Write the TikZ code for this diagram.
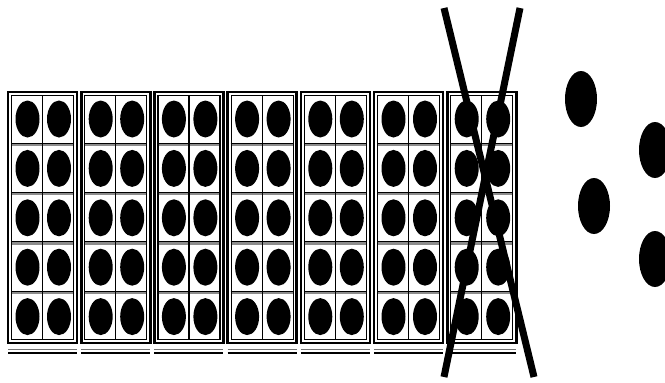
\documentclass[tikz,border=0pt]{standalone}
\begin{document}
\begin{tikzpicture}[x=1pt,y=-1pt,
  outerbox/.style={draw=black,line width=2.6pt},
  innerbox/.style={draw=black,line width=1.2pt},
  sepline/.style={draw=black!45,line width=2.6pt},
  divline/.style={draw=black,line width=1.2pt},
  celldot/.style={fill=black},
  loosedot/.style={fill=black},
  crossline/.style={draw=black,line width=7pt}]
\useasboundingbox (0,0) rectangle (665,383);
\foreach \i in {0,...,6}{
  \pgfmathsetmacro{\xo}{8+73.2*\i}
  \begin{scope}[xshift=\xo]
    \foreach \k in {1,...,4}{
      \draw[sepline] (3,{95+49.4*\k}) -- (66,{95+49.4*\k});
      \draw[black,line width=0.9pt] (3,{95+49.4*\k-1.4}) -- (66,{95+49.4*\k-1.4});
    }
    \draw[divline] (34.5,95) -- (34.5,340);
    \draw[outerbox] (0,92) rectangle (69,343);
    \draw[innerbox] (3.5,95.5) rectangle (65.5,339.5);
    \foreach \k in {0,...,4}{
      \fill[celldot] (19.5,{119+49.4*\k}) ellipse [x radius=12, y radius=18.5];
      \fill[celldot] (51,{119+49.4*\k}) ellipse [x radius=12, y radius=18.5];
    }
    \draw[black!55,line width=1.3pt] (0,349.8) -- (69,349.8);
    \draw[black,line width=1.8pt] (0,352.6) -- (69,352.6);
  \end{scope}
}
\fill[loosedot] (581,99) ellipse [x radius=16, y radius=28];
\fill[loosedot] (655,150) ellipse [x radius=16, y radius=28];
\fill[loosedot] (594,206) ellipse [x radius=16, y radius=28];
\fill[loosedot] (655,259) ellipse [x radius=16, y radius=28];
\coordinate (a1) at (444,8);
\coordinate (a2) at (534,377);
\coordinate (b1) at (520,8);
\coordinate (b2) at (444,377);
\draw[crossline] (a1) -- (a2);
\draw[crossline] (b1) -- (b2);
\end{tikzpicture}
\end{document}
